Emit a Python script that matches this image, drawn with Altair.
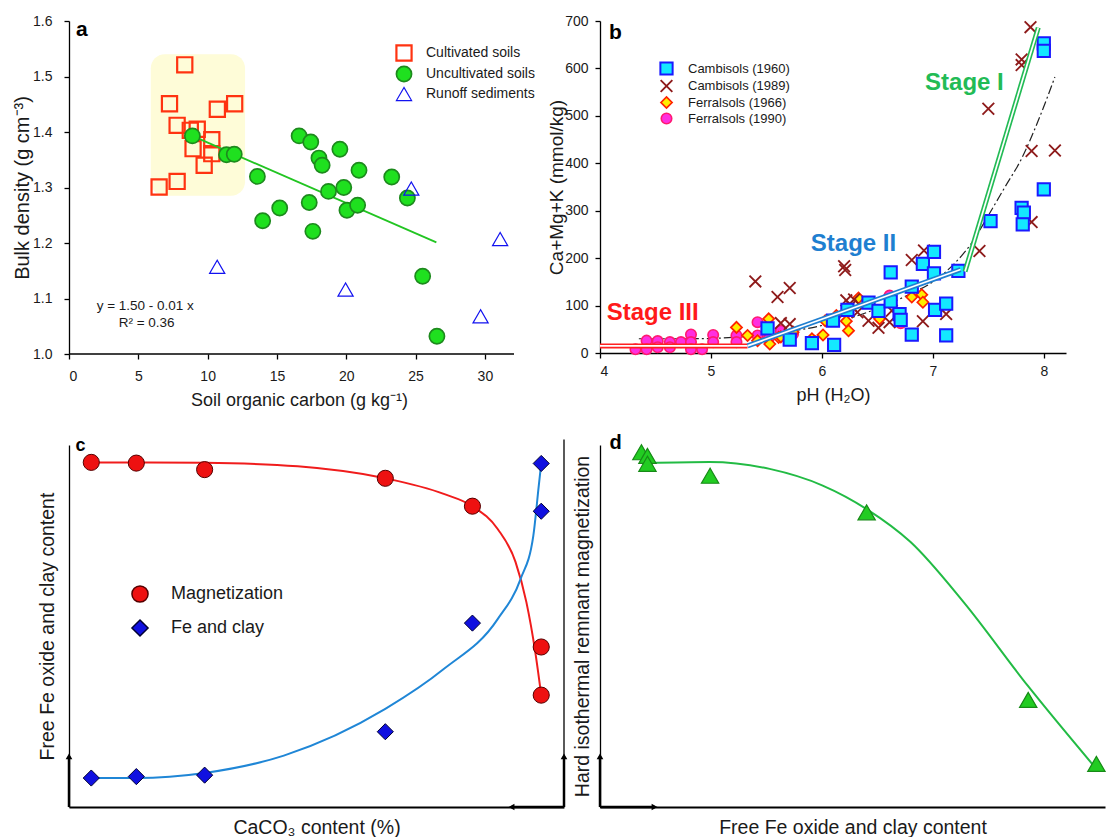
import altair as alt
import pandas as pd

FONT = "Liberation Sans"

# ---------------- Panel a: bulk density vs soil organic carbon ----------------
cult_soc = [8.35, 7.25, 11.95, 10.7, 7.8, 8.75, 9.25, 8.95, 10.3, 10.3, 9.75, 7.8, 6.5]
cult_bd = [1.521, 1.451, 1.451, 1.441, 1.412, 1.403, 1.405, 1.370, 1.386, 1.361, 1.340, 1.311, 1.301]
uncult_soc = [8.9, 11.36, 11.92, 13.59, 13.97, 15.2, 16.6, 17.44, 18.03, 18.26, 19.54, 18.72,
              17.33, 17.59, 19.82, 20.05, 20.82, 20.92, 23.28, 24.41, 25.51, 26.54]
uncult_bd = [1.393, 1.359, 1.360, 1.320, 1.240, 1.263, 1.393, 1.382, 1.353, 1.340, 1.369, 1.293,
             1.273, 1.221, 1.300, 1.259, 1.268, 1.331, 1.319, 1.281, 1.140, 1.032]
runoff_soc = [10.69, 19.95, 24.69, 31.1, 29.69]
runoff_bd = [1.157, 1.116, 1.298, 1.207, 1.068]
reg_soc = [8.9, 26.5]
reg_bd = [1.393, 1.201]
box_soc = [5.9, 12.7]
box_bd = [1.285, 1.54]
a_axis_end = 32.1
types_a = ["Cultivated soils", "Uncultivated soils", "Runoff sediments"]

# ---------------- Panel b: Ca+Mg+K vs pH ----------------
cam60_ph = [5.51, 5.71, 5.91, 6.10, 6.11, 6.23, 6.42, 6.51, 6.62, 6.62, 6.70, 6.71, 6.81, 6.81,
            6.91, 7.01, 7.01, 7.02, 7.12, 7.12, 7.23, 7.52, 7.80, 7.82, 7.81, 8.0, 8.0, 8.0]
cam60_v = [52, 28, 21, 68, 17, 91, 106, 89, 170, 109, 82, 70, 39, 140,
           188, 213, 168, 91, 104, 37, 173, 278, 306, 296, 271, 345, 653, 637]
cam89_ph = [5.40, 5.60, 5.71, 5.63, 5.71, 6.20, 6.21, 6.22, 6.29, 6.32, 6.42, 6.51, 6.61, 6.63,
            6.81, 6.92, 6.91, 7.12, 7.42, 7.50, 7.80, 7.80, 7.88, 7.89, 7.89, 8.10, 6.26, 6.70]
cam89_v = [151, 118, 137, 63, 61, 183, 175, 111, 113, 86, 68, 53, 65, 89,
           196, 216, 67, 82, 215, 515, 619, 607, 687, 426, 276, 427, 100, 80]
fer66_ph = [5.23, 5.33, 5.42, 5.52, 5.53, 5.61, 5.74, 5.91, 6.01, 6.03, 6.13, 6.22, 6.24, 6.33,
            6.52, 6.81, 6.90, 6.91, 5.63]
fer66_v = [54, 37, 26, 72, 19, 33, 44, 30, 38, 68, 79, 67, 47, 116, 72, 118, 123, 107, 34]
fer90_ph = [4.32, 4.42, 4.42, 4.52, 4.52, 4.63, 4.63, 4.73, 4.82, 4.82, 4.82, 4.92, 5.02, 5.02,
            5.23, 5.23, 5.42, 5.42, 5.63, 5.74, 5.92, 6.61, 6.71, 5.52]
fer90_v = [8, 26, 8, 25, 12, 23, 12, 23, 39, 23, 8, 8, 38, 23, 37, 23, 65, 37, 47, 40, 26, 121, 63, 30]
types_b = ["Cambisols (1960)", "Cambisols (1989)", "Ferralsols (1966)", "Ferralsols (1990)"]
dd_ph = [4.35, 4.8, 5.2, 5.6, 6.0, 6.4, 6.8, 7.0, 7.2, 7.35, 7.5, 7.65, 7.8, 7.95, 8.1]
dd_v = [30, 30, 33, 42, 58, 85, 125, 150, 190, 232, 290, 350, 410, 490, 582]
stage3_ph = [4.0, 5.33]
stage3_v = [15, 15]
stage2_ph = [5.33, 7.25]
stage2_v = [15, 176]
stage1_ph = [7.29, 7.95]
stage1_v = [172, 686]

# ---------------- Panel c: schematic, CaCO3 content ----------------
mag_x = [4.5, 13.6, 27.4, 63.9, 81.5, 95.4, 95.4]
mag_y = [95.2, 95.0, 93.2, 90.8, 83.1, 44.2, 30.9]
fe_x = [4.5, 13.6, 27.4, 63.9, 81.5, 95.4, 95.4]
fe_y = [8.0, 8.4, 8.8, 20.8, 50.8, 81.7, 94.9]
magfit_x = [4.5, 16.0, 27.4, 46.2, 63.9, 75.7, 81.5, 86.6, 90.2, 92.4, 94.2, 95.4]
magfit_y = [95.2, 95.2, 95.1, 94.1, 90.8, 86.5, 83.1, 76.8, 67.7, 56.6, 42.8, 30.9]
fefit_x = [4.5, 13.6, 27.4, 43.4, 63.9, 75.7, 86.6, 91.2, 93.8, 94.9, 95.4]
fefit_y = [8.0, 8.0, 9.4, 14.2, 27.1, 38.1, 51.9, 62.9, 74.9, 88.7, 94.9]
types_c = ["Magnetization", "Fe and clay"]

# ---------------- Panel d: schematic, HIRM vs Fe/clay ----------------
hirm_x = [8.2, 9.4, 9.4, 21.8, 52.8, 84.8, 98.3]
hirm_y = [98.0, 97.0, 94.8, 91.5, 81.4, 29.6, 11.9]
hirmfit_x = [9.4, 21.7, 33.6, 44.1, 52.8, 61.5, 72.0, 84.7, 98.0]
hirmfit_y = [95.0, 95.3, 93.4, 88.8, 82.3, 73.2, 56.6, 33.5, 11.0]

# ============================ build panel a ============================
A_W = 493  # plot width (x-axis line itself drawn only to a_axis_end)
A_XMAX = a_axis_end * A_W / 445.0

a_pts = pd.concat([
    pd.DataFrame({"soc": cult_soc, "bd": cult_bd, "type": types_a[0]}),
    pd.DataFrame({"soc": uncult_soc, "bd": uncult_bd, "type": types_a[1]}),
    pd.DataFrame({"soc": runoff_soc, "bd": runoff_bd, "type": types_a[2]}),
], ignore_index=True)

xa = alt.X("soc:Q", scale=alt.Scale(domain=[0, A_XMAX], nice=False, zero=False),
           axis=alt.Axis(values=[0, 5, 10, 15, 20, 25, 30], title="Soil organic carbon (g kg⁻¹)",
                         labelPadding=10, titlePadding=8, titleFontSize=18, domain=False, titleX=230))
ya = alt.Y("bd:Q", scale=alt.Scale(domain=[1.0, 1.6], nice=False, zero=False),
           axis=alt.Axis(values=[1.0, 1.1, 1.2, 1.3, 1.4, 1.5, 1.6], format=".1f",
                         title="Bulk density (g cm⁻³)", labelPadding=12, titlePadding=0, titleFontSize=20))

leg_a = alt.Legend(title=None, orient="none", legendX=326, legendY=23, labelFontSize=14,
                   symbolSize=230, labelOffset=13, rowPadding=-2.5, padding=0, labelColor="#1a1a1a")
enc_a = dict(
    shape=alt.Shape("type:N", scale=alt.Scale(domain=types_a, range=["square", "circle", "triangle-up"]), legend=leg_a),
    fill=alt.Fill("type:N", scale=alt.Scale(domain=types_a, range=["transparent", "#1fe01f", "transparent"]), legend=leg_a),
    stroke=alt.Stroke("type:N", scale=alt.Scale(domain=types_a, range=["#ff3311", "#1d8a1d", "#1212f0"]), legend=leg_a),
    strokeWidth=alt.StrokeWidth("type:N", scale=alt.Scale(domain=types_a, range=[2.2, 1.2, 2.2]), legend=leg_a),
)
a_base = alt.Chart(a_pts).mark_point(opacity=1, size=230).encode(x=xa, y=ya, **enc_a)

a_box = alt.Chart(pd.DataFrame({"soc": [box_soc[0]], "soc2": [box_soc[1]], "bd": [box_bd[0]], "bd2": [box_bd[1]]})).mark_rect(
    color="#fefcd8", cornerRadius=14).encode(x=xa, x2="soc2", y=ya, y2="bd2")
a_xline = alt.Chart(pd.DataFrame({"soc": [0.0], "soc2": [a_axis_end], "bd": [1.0]})).mark_rule(
    color="black", strokeWidth=1.3).encode(x=xa, x2="soc2", y=ya)
a_reg = alt.Chart(pd.DataFrame({"soc": reg_soc, "bd": reg_bd})).mark_line(color="#22c522", strokeWidth=1.8).encode(x=xa, y=ya)
a_txt = alt.Chart(pd.DataFrame({"soc": [5.5, 5.6, 0.5], "bd": [1.086, 1.056, 1.584],
                                "t": ["y = 1.50 - 0.01 x", "R² = 0.36", "a"]}))
a_eq = a_txt.transform_filter("datum.t != 'a'").mark_text(fontSize=13.5, color="#1a1a1a", align="center").encode(x=xa, y=ya, text="t:N")
a_lab = a_txt.transform_filter("datum.t == 'a'").mark_text(fontSize=21, fontWeight="bold", color="black", align="left").encode(x=xa, y=ya, text="t:N")

panel_a = alt.layer(
    a_box, a_xline,
    a_base.transform_filter(alt.datum.type == types_a[0]),
    a_reg,
    a_base.transform_filter(alt.datum.type != types_a[0]),
    a_eq, a_lab,
).properties(width=A_W, height=333)

# ============================ build panel b ============================
b_pts = pd.concat([
    pd.DataFrame({"ph": fer90_ph, "v": fer90_v, "soil": types_b[3]}),
    pd.DataFrame({"ph": fer66_ph, "v": fer66_v, "soil": types_b[2]}),
    pd.DataFrame({"ph": cam89_ph, "v": cam89_v, "soil": types_b[1]}),
    pd.DataFrame({"ph": cam60_ph, "v": cam60_v, "soil": types_b[0]}),
], ignore_index=True)

xb = alt.X("ph:Q", scale=alt.Scale(domain=[4, 8.2], nice=False, zero=False),
           axis=alt.Axis(values=[4, 5, 6, 7, 8], title="pH (H₂O)", labelPadding=6, titlePadding=8, titleFontSize=18))
yb = alt.Y("v:Q", scale=alt.Scale(domain=[0, 700], nice=False),
           axis=alt.Axis(values=[0, 100, 200, 300, 400, 500, 600, 700], title="Ca+Mg+K (mmol/kg)",
                         labelPadding=7, titlePadding=-2, titleFontSize=19))
XPATH = "M-1,-1L1,1M-1,1L1,-1"
leg_b = alt.Legend(title=None, orient="none", legendX=59, legendY=40, labelFontSize=13,
                   labelOffset=14, rowPadding=-3, padding=0, labelColor="#1a1a1a")
enc_b = dict(
    shape=alt.Shape("soil:N", scale=alt.Scale(domain=types_b, range=["square", XPATH, "diamond", "circle"]), legend=leg_b),
    fill=alt.Fill("soil:N", scale=alt.Scale(domain=types_b, range=["#14e8ff", "transparent", "#ffee00", "#ff2ee0"]), legend=leg_b),
    stroke=alt.Stroke("soil:N", scale=alt.Scale(domain=types_b, range=["#1a1aff", "#8e1b1b", "#ff2200", "#ff1a70"]), legend=leg_b),
    strokeWidth=alt.StrokeWidth("soil:N", scale=alt.Scale(domain=types_b, range=[2, 1.6, 1.6, 1.2]), legend=leg_b),
    size=alt.Size("soil:N", scale=alt.Scale(domain=types_b, range=[150, 110, 200, 150]), legend=leg_b),
)
b_points = alt.Chart(b_pts).mark_point(opacity=1).encode(x=xb, y=yb, **enc_b)

b_dd = alt.Chart(pd.DataFrame({"ph": dd_ph, "v": dd_v})).mark_line(
    color="#222222", strokeWidth=1.2, strokeDash=[9, 3, 2, 3], interpolate="monotone").encode(x=xb, y=yb)


def double_line(xs, ys, color):
    d = pd.DataFrame({"ph": xs, "v": ys})
    outer = alt.Chart(d).mark_line(color=color, strokeWidth=5).encode(x=xb, y=yb)
    inner = alt.Chart(d).mark_line(color="white", strokeWidth=1.7).encode(x=xb, y=yb)
    return [outer, inner]


b_txt = pd.DataFrame({"ph": [4.06, 5.90, 6.93], "v": [84, 230, 570],
                      "t": ["Stage III", "Stage II", "Stage I"],
                      "c": ["#ff1a1a", "#1f7fd0", "#22bb55"]})
b_stage = alt.Chart(b_txt).mark_text(fontSize=24, fontWeight="bold", align="left").encode(
    x=xb, y=yb, text="t:N", color=alt.Color("c:N", scale=None))
b_lab = alt.Chart(pd.DataFrame({"ph": [4.08], "v": [675], "t": ["b"]})).mark_text(
    fontSize=21, fontWeight="bold", align="left", color="black").encode(x=xb, y=yb, text="t:N")

panel_b = alt.layer(
    b_dd, b_points,
    *double_line(stage3_ph, stage3_v, "#ff2020"),
    *double_line(stage2_ph, stage2_v, "#1f7fd0"),
    *double_line(stage1_ph, stage1_v, "#22bb55"),
    b_stage, b_lab,
).properties(width=466, height=332)

# ============================ build panel c ============================
c_pts = pd.concat([
    pd.DataFrame({"cx": mag_x, "cy": mag_y, "var": types_c[0]}),
    pd.DataFrame({"cx": fe_x, "cy": fe_y, "var": types_c[1]}),
], ignore_index=True)
xc = alt.X("cx:Q", scale=alt.Scale(domain=[0, 100], nice=False),
           axis=alt.Axis(ticks=False, labels=False, title="CaCO₃ content (%)", titleFontSize=19.5,
                         titlePadding=11, domainWidth=2))
yc = alt.Y("cy:Q", scale=alt.Scale(domain=[0, 100], nice=False),
           axis=alt.Axis(ticks=False, labels=False, title="Free Fe oxide and clay content", titleFontSize=19.5,
                         titlePadding=12, domainWidth=1.3))
leg_c = alt.Legend(title=None, orient="none", legendX=62, legendY=140, labelFontSize=18,
                   symbolSize=260, labelOffset=22, rowPadding=10, padding=0, labelColor="#1a1a1a")
enc_c = dict(
    shape=alt.Shape("var:N", scale=alt.Scale(domain=types_c, range=["circle", "diamond"]), legend=leg_c),
    fill=alt.Fill("var:N", scale=alt.Scale(domain=types_c, range=["#ee1111", "#1010e0"]), legend=leg_c),
    stroke=alt.Stroke("var:N", scale=alt.Scale(domain=types_c, range=["#550000", "#000033"]), legend=leg_c),
)
c_fit_mag = alt.Chart(pd.DataFrame({"cx": magfit_x, "cy": magfit_y})).mark_line(
    color="#f01c1c", strokeWidth=2, interpolate="monotone").encode(x=xc, y=yc)
c_fit_fe = alt.Chart(pd.DataFrame({"cx": fefit_x, "cy": fefit_y})).mark_line(
    color="#1f86d6", strokeWidth=2, interpolate="monotone").encode(x=xc, y=yc)
c_points = alt.Chart(c_pts).mark_point(opacity=1, size=260, strokeWidth=1).encode(x=xc, y=yc, **enc_c)

c_rule = alt.Chart(pd.DataFrame({"cx": [100], "cy": [0], "cy2": [101.5]})).mark_rule(
    color="black", strokeWidth=1.3).encode(x=xc, y=yc, y2="cy2")
c_seg = pd.DataFrame({"cx": [0, 89.4, 100], "cx2": [0, 100, 100], "cy": [0, 0, 0], "cy2": [14, 0, 14]})
c_arrows = alt.Chart(c_seg).mark_rule(color="black", strokeWidth=2.5).encode(x=xc, x2="cx2", y=yc, y2="cy2")
c_heads = alt.Chart(pd.DataFrame({"cx": [0, 89.4, 100], "cy": [14, 0, 14],
                                  "s": ["triangle-up", "triangle-left", "triangle-up"]})).mark_point(
    filled=True, opacity=1, color="black", size=45).encode(x=xc, y=yc, shape=alt.Shape("s:N", scale=None))
c_lab = alt.Chart(pd.DataFrame({"cx": [1.3], "cy": [99.7], "t": ["c"]})).mark_text(
    fontSize=18, fontWeight="bold", align="left", color="black").encode(x=xc, y=yc, text="t:N")

panel_c = alt.layer(c_rule, c_arrows, c_heads, c_fit_mag, c_fit_fe, c_points, c_lab).properties(width=495, height=362)

# ============================ build panel d ============================
xd = alt.X("dx:Q", scale=alt.Scale(domain=[0, 100], nice=False),
           axis=alt.Axis(ticks=False, labels=False, title="Free Fe oxide and clay content", titleFontSize=19.5,
                         titlePadding=11, domainWidth=2))
yd = alt.Y("dy:Q", scale=alt.Scale(domain=[0, 100], nice=False),
           axis=alt.Axis(ticks=False, labels=False, title="Hard isothermal remnant magnetization",
                         titleFontSize=19.5, titlePadding=8, domainWidth=1.3))
d_fit = alt.Chart(pd.DataFrame({"dx": hirmfit_x, "dy": hirmfit_y})).mark_line(
    color="#22bb44", strokeWidth=2, interpolate="monotone").encode(x=xd, y=yd)
d_points = alt.Chart(pd.DataFrame({"dx": hirm_x, "dy": hirm_y})).mark_point(
    shape="triangle-up", filled=True, opacity=1, size=300, color="#22cc22", stroke="#178a17", strokeWidth=1.2).encode(x=xd, y=yd)
d_seg = pd.DataFrame({"dx": [0, 0], "dx2": [0, 10.8], "dy": [0, 0], "dy2": [14, 0]})
d_arrows = alt.Chart(d_seg).mark_rule(color="black", strokeWidth=2.5).encode(x=xd, x2="dx2", y=yd, y2="dy2")
d_heads = alt.Chart(pd.DataFrame({"dx": [0, 10.8], "dy": [14, 0], "s": ["triangle-up", "triangle-right"]})).mark_point(
    filled=True, opacity=1, color="black", size=45).encode(x=xd, y=yd, shape=alt.Shape("s:N", scale=None))
d_lab = alt.Chart(pd.DataFrame({"dx": [1.9], "dy": [100.5], "t": ["d"]})).mark_text(
    fontSize=20, fontWeight="bold", align="left", color="black").encode(x=xd, y=yd, text="t:N")

panel_d = alt.layer(d_arrows, d_heads, d_fit, d_points, d_lab).properties(width=505, height=362)

# ============================ layout ============================
chart = alt.concat(
    panel_a, panel_b, panel_c, panel_d, columns=2,
    spacing={"row": 91, "column": 36}, bounds="flush", align="none",
).resolve_scale(
    x="independent", y="independent", shape="independent", fill="independent",
    stroke="independent", strokeWidth="independent", size="independent",
).resolve_legend(
    shape="independent", fill="independent", stroke="independent", strokeWidth="independent",
    size="independent",
).properties(
    padding={"left": 12, "top": 14, "right": 0, "bottom": 0}, background="white"
).configure_axis(
    domainColor="black", tickColor="black", labelColor="#1a1a1a", titleColor="#1a1a1a",
    labelFont=FONT, titleFont=FONT, titleFontWeight="normal", labelFontSize=14,
    tickSize=5, grid=False, domainWidth=1.3, tickWidth=1.3
).configure_view(stroke=None).configure_legend(labelFont=FONT).configure_text(font=FONT)

chart.save("out.html", embed_options={"renderer": "svg", "actions": False})
